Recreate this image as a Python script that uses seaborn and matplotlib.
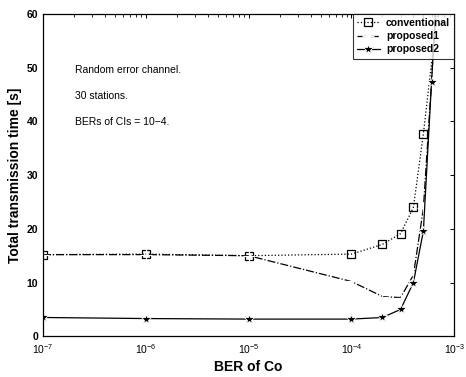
import numpy as np
import pandas as pd
import matplotlib
matplotlib.use("Agg")
import matplotlib.pyplot as plt
import seaborn as sns

# ---- data ----
x_conv = [1e-7, 1e-6, 1e-5, 1e-4, 2e-4, 3e-4, 4e-4, 5e-4, 7e-4]
conventional = [15.2, 15.3, 15.0, 15.3, 17.1, 19.1, 24.0, 37.7, 62.0]
x_prop = [1e-7, 1e-6, 1e-5, 1e-4, 2e-4, 3e-4, 4e-4, 5e-4, 6e-4, 7e-4]
proposed1 = [15.2, 15.2, 15.0, 10.2, 7.4, 7.2, 11.4, 23.8, 47.3, 70.0]
proposed2 = [3.5, 3.3, 3.2, 3.2, 3.5, 5.0, 10.0, 19.6, 47.3, 70.0]
annotations = ["Random error channel.", "30 stations.", "BERs of CIs = 10\u22124."]
x_ticks = [1e-7, 1e-6, 1e-5, 1e-4, 1e-3]
y_ticks = [0, 10, 20, 30, 40, 50, 60]

sns.set_style("white")
plt.rcParams['font.family'] = ['Liberation Sans', 'DejaVu Sans']
plt.rcParams['mathtext.fontset'] = 'custom'
plt.rcParams['mathtext.rm'] = 'Liberation Sans'
plt.rcParams['mathtext.it'] = 'Liberation Sans'
plt.rcParams['mathtext.bf'] = 'Liberation Sans:bold'
for k in ['text.color', 'axes.labelcolor', 'xtick.color', 'ytick.color', 'axes.edgecolor']:
    plt.rcParams[k] = 'black'

fig = plt.figure(figsize=(4.66, 3.77), dpi=100)
ax = fig.add_axes([0.092, 0.108, 0.883, 0.855])

sns.lineplot(x=x_conv, y=conventional, ax=ax, color='black', linestyle=':', lw=0.9,
             marker='s', markersize=5.5, markerfacecolor='none', markeredgecolor='black',
             markeredgewidth=0.9, sort=False, estimator=None, label='conventional')
sns.lineplot(x=x_prop, y=proposed1, ax=ax, color='black', linestyle='-.', lw=0.9,
             marker='+', markersize=9, markeredgewidth=0.9,
             sort=False, estimator=None, label='proposed1')
sns.lineplot(x=x_prop, y=proposed2, ax=ax, color='black', linestyle='-', lw=0.9,
             marker='*', markersize=7, markeredgewidth=0.6,
             sort=False, estimator=None, label='proposed2')

ax.set_xscale('log')
ax.set_xlim(1e-7, 1e-3)
ax.set_ylim(0, 60)
ax.set_xticks(x_ticks)
ax.set_yticks(y_ticks)
ax.set_yticklabels([str(v) for v in y_ticks], fontweight='bold', fontsize=7.5)
ax.set_xticklabels([r'$10^{%d}$' % int(np.log10(v)) for v in x_ticks], fontsize=7.5)

ax.tick_params(which='both', direction='in', top=True, right=True, length=3, width=0.7,
               colors='black')
ax.tick_params(which='minor', length=2, width=0.6)
ax.tick_params(axis='x', pad=4)
for s in ax.spines.values():
    s.set_linewidth(0.9)
    s.set_color('black')

ax.set_xlabel('BER of Co', fontsize=10, fontweight='bold', labelpad=3, color='black')
ax.set_ylabel('Total transmission time [s]', fontsize=10, fontweight='bold', labelpad=3,
              color='black')

for t, yy in zip(annotations, [0.826, 0.745, 0.665]):
    ax.text(0.078, yy, t, transform=ax.transAxes, fontsize=7.5, va='center', ha='left',
            color='black')

leg = ax.legend(loc='upper right', fontsize=7.5, frameon=True, fancybox=False,
                borderaxespad=0, handlelength=2.2, handletextpad=0.6,
                borderpad=0.4, labelspacing=0.3)
leg.get_frame().set_edgecolor('black')
leg.get_frame().set_linewidth(0.8)
for t in leg.get_texts():
    t.set_fontweight('bold')
    t.set_color('black')

fig.savefig('out.png', dpi=100)
